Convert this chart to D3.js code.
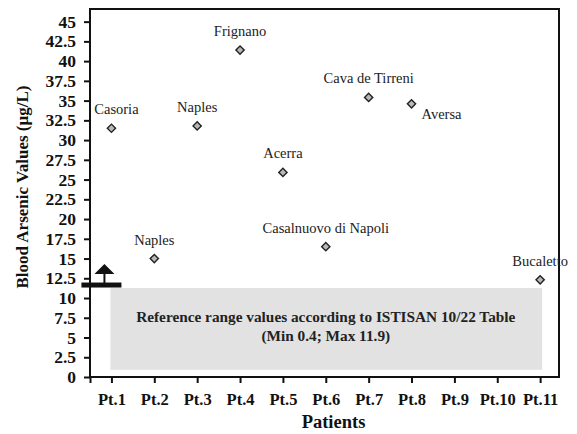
<!DOCTYPE html>
<html>
<head>
<meta charset="utf-8">
<script src="https://cdn.jsdelivr.net/npm/d3@7"></script>
<style>
  html, body { margin: 0; padding: 0; background: #fff; }
  svg { display: block; }
  svg text { font-family: "Liberation Serif", "Times New Roman", Times, serif !important; }
</style>
</head>
<body>
<svg id="chart" width="577" height="434"></svg>
<script>
// Patients on the x axis (Pt.1 .. Pt.11)
const patients = ["Pt.1", "Pt.2", "Pt.3", "Pt.4", "Pt.5", "Pt.6", "Pt.7", "Pt.8", "Pt.9", "Pt.10", "Pt.11"];
// Measured blood arsenic values (µg/L) with the town of each patient
const samplePatient = [1, 2, 3, 4, 5, 6, 7, 8, 11];
const sampleValue = [31.5, 15.0, 31.8, 41.4, 25.9, 16.5, 35.4, 34.6, 12.3];
const sampleTown = ["Casoria", "Naples", "Naples", "Frignano", "Acerra", "Casalnuovo di Napoli", "Cava de Tirreni", "Aversa", "Bucaletto"];
// y axis ticks
const yTicks = [0, 2.5, 5, 7.5, 10, 12.5, 15, 17.5, 20, 22.5, 25, 27.5, 30, 32.5, 35, 37.5, 40, 42.5, 45];
// ISTISAN 10/22 reference range
const rangeMin = 0.4;
const rangeMax = 11.9;
const rangeLines = ["Reference range values according to ISTISAN 10/22 Table", "(Min 0.4; Max 11.9)"];

const svg = d3.select("#chart");
const plotL = 90, plotR = 559, plotT = 9, plotB = 377;

const x = d3.scaleLinear().domain([0.5, 11.44]).range([plotL, plotR]);
const y = d3.scaleLinear().domain([0, 46.6]).range([plotB, plotT]);

// reference band
svg.append("rect")
  .attr("x", x(1) - 1)
  .attr("y", y(rangeMax) + 5)
  .attr("width", x(11) + 2 - (x(1) - 1))
  .attr("height", y(rangeMin) - 4 - (y(rangeMax) + 5))
  .attr("fill", "#e2e2e2");

const bandCx = (x(1) + x(11)) / 2;
svg.append("g")
  .selectAll("text")
  .data(rangeLines)
  .join("text")
  .attr("x", bandCx)
  .attr("y", (d, i) => 322 + i * 19)
  .attr("text-anchor", "middle")
  .attr("font-size", 15.3)
  .attr("font-weight", "bold")
  .attr("fill", "#222")
  .text(d => d);

// frame
svg.append("rect")
  .attr("x", plotL).attr("y", plotT)
  .attr("width", plotR - plotL).attr("height", plotB - plotT)
  .attr("fill", "none").attr("stroke", "#111").attr("stroke-width", 2);

// y axis
const yAxis = d3.axisLeft(y).tickValues(yTicks).tickSize(6).tickPadding(8)
  .tickFormat(d => d3.format("")(d));
const gy = svg.append("g").attr("transform", `translate(${plotL},0)`).call(yAxis);
gy.select(".domain").remove();
gy.selectAll(".tick line").attr("stroke", "#111").attr("stroke-width", 2);
gy.selectAll(".tick text")
  .attr("font-size", 17.5).attr("font-weight", "bold").attr("fill", "#111");

// x axis
const xAxis = d3.axisBottom(x).tickValues([0.5].concat(d3.range(1, 12))).tickSize(6).tickPadding(10)
  .tickFormat(d => d === 0.5 ? "" : patients[d - 1]);
const gx = svg.append("g").attr("transform", `translate(0,${plotB})`).call(xAxis);
gx.select(".domain").remove();
gx.selectAll(".tick line").attr("stroke", "#111").attr("stroke-width", 2);
gx.selectAll(".tick text")
  .attr("font-size", 16.5).attr("font-weight", "bold").attr("fill", "#111");

// axis titles
svg.append("text")
  .attr("x", (plotL + plotR) / 2 + 9).attr("y", 428)
  .attr("text-anchor", "middle")
  .attr("font-size", 18.5).attr("font-weight", "bold").attr("fill", "#111")
  .text("Patients");
svg.append("text")
  .attr("transform", `translate(28,${(plotT + plotB) / 2 - 6}) rotate(-90)`)
  .attr("text-anchor", "middle")
  .attr("font-size", 17).attr("font-weight", "bold").attr("fill", "#111")
  .text("Blood Arsenic Values (µg/L)");

// upper-limit marker at the maximum of the reference range
const mx = x(1) - 8;
const my = y(rangeMax);
svg.append("rect")
  .attr("x", mx - 22).attr("y", my - 0.5)
  .attr("width", 40).attr("height", 5)
  .attr("fill", "#111");
svg.append("line")
  .attr("x1", mx + 1).attr("x2", mx + 1)
  .attr("y1", my - 10).attr("y2", my)
  .attr("stroke", "#111").attr("stroke-width", 2);
svg.append("path")
  .attr("d", `M${mx + 1},${my - 19} L${mx + 11},${my - 9} L${mx - 9},${my - 9} Z`)
  .attr("fill", "#111");

// points
const pts = samplePatient.map((p, i) => ({ p, v: sampleValue[i], town: sampleTown[i] }));
const diamond = d3.symbol().type(d3.symbolSquare).size(34);
svg.append("g")
  .selectAll("path")
  .data(pts)
  .join("path")
  .attr("d", diamond)
  .attr("transform", d => `translate(${x(d.p)},${y(d.v)}) rotate(45)`)
  .attr("fill", "#b8b8b8")
  .attr("stroke", "#222")
  .attr("stroke-width", 1.4);

// town labels: above each point, Aversa below to the right
svg.append("g")
  .selectAll("text")
  .data(pts)
  .join("text")
  .attr("x", d => d.town === "Aversa" ? x(d.p) + 10 : x(d.p) + (d.town === "Casoria" ? 5 : 0))
  .attr("y", d => d.town === "Aversa" ? y(d.v) + 15 : y(d.v) - 14)
  .attr("text-anchor", d => d.town === "Aversa" ? "start" : "middle")
  .attr("font-size", 14.5)
  .attr("fill", "#222")
  .text(d => d.town);
</script>
</body>
</html>
